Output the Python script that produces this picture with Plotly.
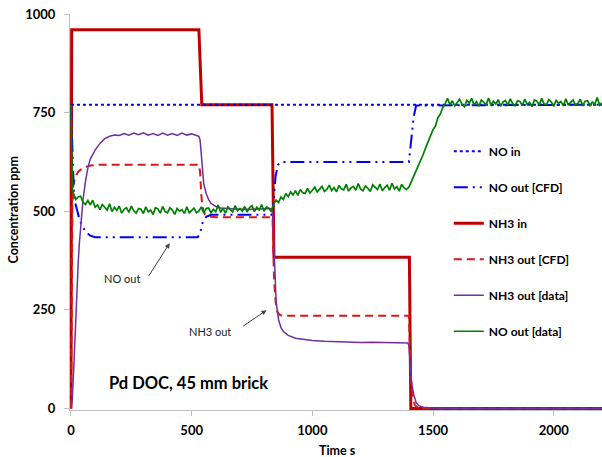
import plotly.graph_objects as go

# ---------------- data ----------------
t_no_in = [0, 2200]
no_in = [770, 770]

t_nh3_in = [0, 3, 530, 542, 833, 841, 1402, 1408, 2200]
nh3_in = [0, 960, 960, 770, 770, 383, 383, 0, 0]

t_no_cfd = [0, 5, 8, 12, 18, 25, 35, 45, 60, 80, 100, 525, 535, 545, 560, 580,
            835, 840, 848, 858, 870, 1400, 1410, 1420, 1430, 2200]
no_cfd = [770, 660, 600, 550, 520, 500, 480, 465, 448, 438, 434, 434, 445, 470, 486, 491,
          491, 530, 590, 618, 625, 625, 690, 740, 768, 770]

t_nh3_cfd = [0, 3, 6, 10, 20, 30, 50, 80, 120, 530, 535, 540, 545, 555, 570, 600,
             835, 838, 842, 848, 855, 865, 880, 1400, 1403, 1408, 1415, 1425, 1440, 2200]
nh3_cfd = [0, 300, 520, 570, 590, 600, 610, 616, 618, 618, 600, 540, 510, 492, 487, 485,
           485, 400, 320, 270, 245, 237, 235, 235, 150, 80, 30, 8, 0, 0]

t_nh3_data = [0, 5, 10, 15, 20, 25, 30, 35, 40, 50, 60, 70, 80, 90, 100, 120, 140, 160, 180,
              200, 220, 240, 260, 280, 300, 320, 340, 360, 380, 400, 420, 440, 460, 480, 500,
              520, 530, 535, 540, 545, 550, 560, 570, 580, 600, 620, 660, 700, 750, 800, 830,
              835, 840, 845, 850, 860, 870, 880, 900, 930, 970, 1000, 1050, 1100, 1150, 1200,
              1250, 1300, 1350, 1395, 1400, 1405, 1410, 1420, 1430, 1440, 1460, 1500, 1600, 2200]
nh3_data = [0, 20, 80, 160, 240, 310, 370, 420, 465, 530, 575, 610, 632, 645, 655, 672, 684, 690, 693,
            692, 697, 693, 698, 694, 699, 693, 697, 692, 698, 693, 697, 692, 698, 693, 696,
            692, 690, 680, 640, 600, 570, 545, 530, 520, 512, 508, 506, 505, 505, 506, 507,
            505, 420, 330, 270, 225, 205, 195, 185, 178, 174, 172, 170, 169, 168, 167,
            168, 167, 166, 166, 160, 110, 70, 35, 15, 7, 3, 1, 0, 0]

# NO out [data]: noisy measured trace, read point by point in 10 s steps
t_no_data = [
    0, 2, 4, 6,
    10, 20, 30, 40, 50, 60, 70, 80, 90, 100,
    110, 120, 130, 140, 150, 160, 170, 180, 190, 200,
    210, 220, 230, 240, 250, 260, 270, 280, 290, 300,
    310, 320, 330, 340, 350, 360, 370, 380, 390, 400,
    410, 420, 430, 440, 450, 460, 470, 480, 490, 500,
    510, 520, 530, 540, 550, 560, 570, 580, 590, 600,
    610, 620, 630, 640, 650, 660, 670, 680, 690, 700,
    710, 720, 730, 740, 750, 760, 770, 780, 790, 800,
    810, 820, 830,
    840, 850, 860, 870, 880, 890, 900, 910, 920, 930,
    940, 950, 960, 970, 980, 990, 1000, 1010, 1020, 1030,
    1040, 1050, 1060, 1070, 1080, 1090, 1100, 1110, 1120, 1130,
    1140, 1150, 1160, 1170, 1180, 1190, 1200, 1210, 1220, 1230,
    1240, 1250, 1260, 1270, 1280, 1290, 1300, 1310, 1320, 1330,
    1340, 1350, 1360, 1370, 1380, 1390, 1400,
    1410, 1420, 1430, 1440, 1450, 1460, 1470, 1480, 1490, 1500,
    1510, 1520, 1530, 1540, 1550, 1560, 1570,
    1580, 1590, 1600, 1610, 1620, 1630, 1640, 1650, 1660, 1670,
    1680, 1690, 1700, 1710, 1720, 1730, 1740, 1750, 1760, 1770,
    1780, 1790, 1800, 1810, 1820, 1830, 1840, 1850, 1860, 1870,
    1880, 1890, 1900, 1910, 1920, 1930, 1940, 1950, 1960, 1970,
    1980, 1990, 2000, 2010, 2020, 2030, 2040, 2050, 2060, 2070,
    2080, 2090, 2100, 2110, 2120, 2130, 2140, 2150, 2160, 2170,
    2180, 2190, 2200]
no_data = [
    770, 700, 600, 555,
    546, 530, 536, 538, 522, 517, 527, 516, 528, 510,
    516, 504, 517, 510, 503, 519, 499, 510, 502, 513,
    495, 505, 509, 497, 513, 501, 495, 507, 505, 494,
    511, 498, 503, 492, 509, 506, 495, 512, 499, 496,
    509, 503, 492, 507, 500, 504, 494, 511, 496, 502,
    508, 496, 500, 511, 495, 507, 508, 496, 505, 499,
    516, 497, 508, 495, 511, 504, 498, 514, 501, 507,
    500, 512, 498, 509, 514, 499, 510, 503, 517, 500,
    511, 507, 499,
    518, 528, 522, 536, 530, 545, 537, 549, 541, 552,
    540, 555, 547, 545, 558, 546, 553, 561, 549, 556,
    563, 550, 555, 566, 552, 560, 549, 565, 557, 554,
    568, 551, 559, 563, 553, 570, 556, 552, 564, 558,
    550, 567, 561, 555, 569, 552, 560, 566, 553, 571,
    556, 562, 551, 568, 559, 555, 561,
    575, 588, 604, 615, 633, 645, 662, 676, 690, 707,
    716, 737, 746, 763, 772, 786, 770,
    780, 767, 777, 784, 771, 765, 781, 774, 786, 769,
    778, 766, 782, 776, 770, 787, 768, 779, 772, 783,
    766, 777, 781, 769, 785, 773, 767, 780, 778, 768,
    784, 771, 776, 765, 782, 779, 769, 786, 772, 770,
    783, 777, 766, 781, 774, 778, 767, 785, 770, 776,
    782, 769, 773, 784, 767, 779, 780, 768, 777, 771,
    788, 769, 775]

y_ticks = [0, 250, 500, 750, 1000]
x_ticks = [0, 500, 1000, 1500, 2000]

FONT = "Lato, 'Liberation Sans', sans-serif"
BLUE = "#0000FF"
RED = "#C00000"
PURPLE = "#7030A0"
GREEN = "#008000"

fig = go.Figure()

# draw order (bottom -> top); legend order set with legendrank
fig.add_trace(go.Scatter(x=t_nh3_in, y=nh3_in, name="NH3 in", mode="lines",
                         line=dict(color=RED, width=3), legendrank=3, legendgroup="c"))
fig.add_trace(go.Scatter(x=t_nh3_cfd, y=nh3_cfd, name="NH3 out [CFD]", mode="lines",
                         line=dict(color="#D81818", width=2, dash="8px,5px"), legendrank=4, legendgroup="d"))
fig.add_trace(go.Scatter(x=t_no_cfd, y=no_cfd, name="NO out [CFD]", mode="lines",
                         line=dict(color=BLUE, width=2, dash="14px,5px,2px,5px,2px,5px"), legendrank=2, legendgroup="b"))
fig.add_trace(go.Scatter(x=t_no_in, y=no_in, name="NO in", mode="lines",
                         line=dict(color=BLUE, width=2, dash="dot"), legendrank=1, legendgroup="a"))
fig.add_trace(go.Scatter(x=t_nh3_data, y=nh3_data, name="NH3 out [data]", mode="lines",
                         line=dict(color=PURPLE, width=1.5), legendrank=5, legendgroup="e"))
fig.add_trace(go.Scatter(x=t_no_data, y=no_data, name="NO out [data]", mode="lines",
                         line=dict(color=GREEN, width=1.7), legendrank=6, legendgroup="f"))

axis_common = dict(showgrid=False, zeroline=False, showline=True, linecolor="#BFBFBF", linewidth=1,
                   ticks="outside", ticklen=5, tickcolor="#BFBFBF",
                   tickfont=dict(family=FONT, size=13, color="#000000", weight="bold"))

fig.update_xaxes(range=[-4, 2200], tickvals=x_ticks, ticktext=[str(v) for v in x_ticks],
                 ticklabelstandoff=3, **axis_common)
fig.update_yaxes(range=[-4, 1000], tickvals=y_ticks, ticktext=[str(v) for v in y_ticks],
                 ticklabelstandoff=6, **axis_common)

fig.update_layout(
    width=602, height=457,
    margin=dict(l=70, r=0, t=14, b=47),
    plot_bgcolor="white", paper_bgcolor="white",
    showlegend=True,
    legend=dict(x=0.712, y=0.69, xanchor="left", yanchor="top", bgcolor="rgba(0,0,0,0)",
                font=dict(family=FONT, size=12, color="#000000", weight="bold"),
                tracegroupgap=17, itemwidth=30),
    annotations=[
        dict(text="Concentration ppm", textangle=-90, xref="paper", yref="paper",
             x=-0.107, y=0.504, xanchor="center", yanchor="middle", showarrow=False,
             font=dict(family=FONT, size=12.5, color="#000000", weight="bold")),
        dict(text="Time s", xref="paper", yref="paper", x=(337 - 70) / 532, y=-0.102,
             xanchor="center", yanchor="middle", showarrow=False,
             font=dict(family=FONT, size=12.5, color="#000000", weight="bold")),
        dict(text="Pd DOC, 45 mm brick", xref="x", yref="y", x=150, y=65,
             xanchor="left", yanchor="middle", showarrow=False,
             font=dict(family=FONT, size=16.5, color="#000000", weight="bold")),
        dict(text="NO out", xref="x", yref="y", x=210, y=330, xanchor="center", yanchor="middle",
             showarrow=False, font=dict(family=FONT, size=11, color="#222222")),
        dict(text="", xref="x", yref="y", x=409, y=419, axref="x", ayref="y", ax=318, ay=332,
             showarrow=True, arrowhead=2, arrowsize=1, arrowwidth=1, arrowcolor="#404040"),
        dict(text="NH3 out", xref="x", yref="y", x=575, y=196, xanchor="center", yanchor="middle",
             showarrow=False, font=dict(family=FONT, size=11, color="#222222")),
        dict(text="", xref="x", yref="y", x=810, y=249, axref="x", ayref="y", ax=707, ay=206,
             showarrow=True, arrowhead=2, arrowsize=1, arrowwidth=1, arrowcolor="#404040"),
    ],
)

fig.write_html("out.html")
